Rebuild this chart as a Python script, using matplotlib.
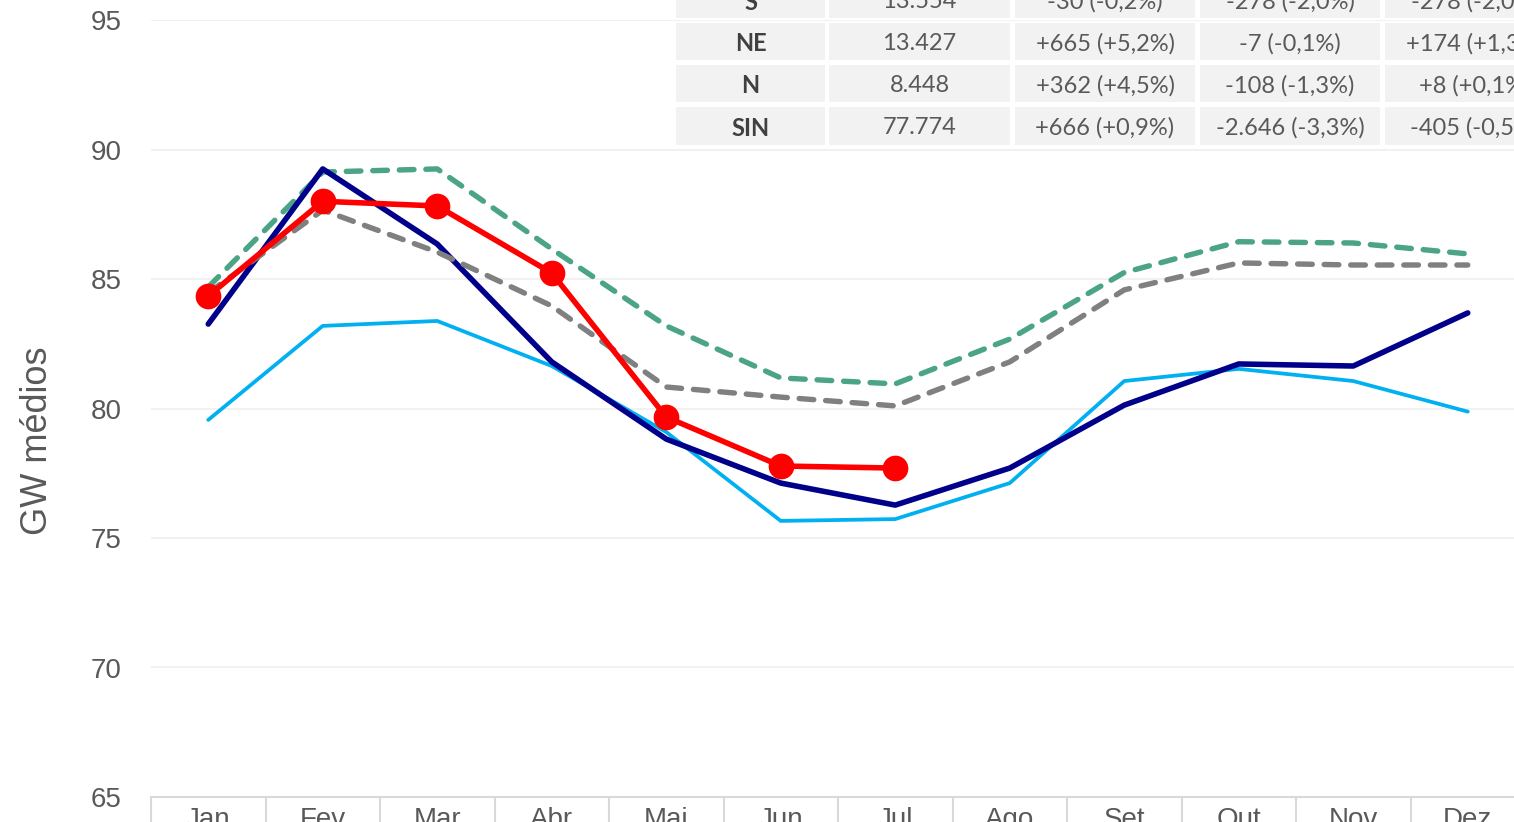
import matplotlib
matplotlib.use("Agg")
import matplotlib.pyplot as plt
from matplotlib.patches import Rectangle
import numpy as np

months = ["Jan", "Fev", "Mar", "Abr", "Mai", "Jun", "Jul", "Ago", "Set", "Out", "Nov", "Dez"]

serie_red = [84.34, 88.00, 87.82, 85.23, 79.67, 77.78, 77.70]
serie_navy = [83.26, 89.25, 86.35, 81.80, 78.82, 77.12, 76.27, 77.70, 80.13, 81.72, 81.64, 83.69]
serie_lightblue = [79.56, 83.19, 83.38, 81.64, 79.09, 75.66, 75.73, 77.12, 81.06, 81.53, 81.06, 79.88]
serie_green = [84.69, 89.13, 89.25, 86.16, 83.19, 81.18, 80.95, 82.68, 85.25, 86.44, 86.39, 85.97]
serie_gray = [84.46, 87.66, 86.04, 83.96, 80.83, 80.44, 80.10, 81.80, 84.58, 85.62, 85.54, 85.54]

table_rows = [
    ["S", "13.554", "-30 (-0,2%)", "-278 (-2,0%)", "-278 (-2,0%)"],
    ["NE", "13.427", "+665 (+5,2%)", "-7 (-0,1%)", "+174 (+1,3%)"],
    ["N", "8.448", "+362 (+4,5%)", "-108 (-1,3%)", "+8 (+0,1%)"],
    ["SIN", "77.774", "+666 (+0,9%)", "-2.646 (-3,3%)", "-405 (-0,5%)"],
]

W, H = 1514, 822
fig = plt.figure(figsize=(W / 100, H / 100), dpi=100)
fig.patch.set_facecolor("white")

ax_left, ax_right = 151, 151 + 12 * 114.5
ax_top, ax_bot = 20, 797
ax = fig.add_axes([ax_left / W, (H - ax_bot) / H, (ax_right - ax_left) / W, (ax_bot - ax_top) / H])

x = np.arange(len(months))

ax.plot(x, serie_lightblue, color="#00B0F0", lw=2.7, solid_joinstyle="round", solid_capstyle="round", zorder=3)
ax.plot(x, serie_green, color="#4BA585", lw=3.9, ls=(0, (2.7, 2.2)), dash_capstyle="round",
        dash_joinstyle="round", zorder=4)
ax.plot(x, serie_navy, color="#00008B", lw=4.0, solid_joinstyle="round", solid_capstyle="round", zorder=5)
ax.plot(x, serie_gray, color="#808080", lw=3.9, ls=(0, (2.7, 2.2)), dash_capstyle="round",
        dash_joinstyle="round", zorder=6)
ax.plot(np.arange(len(serie_red)), serie_red, color="#FF0000", lw=4.0, marker="o", markersize=18.5,
        markeredgewidth=0, solid_joinstyle="round", zorder=7)

ax.set_xlim(-0.5, 11.5)
ax.set_ylim(65, 95)
ax.set_yticks(np.arange(65, 96, 5))
ax.grid(axis="y", color="#EFEFEF", lw=1.2, zorder=0)
ax.set_axisbelow(True)
for s in ["top", "right", "left"]:
    ax.spines[s].set_visible(False)
ax.spines["bottom"].set_color("#D9D9D9")
ax.spines["bottom"].set_linewidth(1.5)

ax.tick_params(axis="y", length=0, pad=21, labelsize=20, labelcolor="#595959")
ax.set_xticks(x)
ax.set_xticklabels(months)
ax.set_xticks(np.arange(-0.5, 12, 1), minor=True)
ax.tick_params(axis="x", which="major", length=0, pad=7, labelsize=20, labelcolor="#595959")
ax.tick_params(axis="x", which="minor", length=30, width=1.5, color="#D9D9D9", direction="out")
for lab in ax.get_yticklabels() + ax.get_xticklabels():
    lab.set_family(["Liberation Sans", "DejaVu Sans"])

fig.text(38 / W, 1 - 441 / H, "GW médios", rotation=90, ha="center", va="center",
         fontsize=26, color="#595959", family=["Liberation Sans", "DejaVu Sans"])

# table
col_edges = [(676, 825), (829, 1010), (1015, 1195), (1200, 1380), (1385, 1565)]
row_edges = [(-18, 18), (23, 60), (65, 102), (107, 145)]
for ri, row in enumerate(table_rows):
    y0, y1 = row_edges[ri]
    for ci, txt in enumerate(row):
        x0, x1 = col_edges[ci]
        fig.add_artist(Rectangle((x0 / W, 1 - y1 / H), (x1 - x0) / W, (y1 - y0) / H,
                                 transform=fig.transFigure, facecolor="#F2F2F2", edgecolor="none", zorder=10))
        fig.text((x0 + x1) / 2 / W, 1 - ((y0 + y1) / 2 + 2) / H, txt, ha="center", va="center",
                 fontsize=17, color="#404040" if ci == 0 else "#595959",
                 fontweight="bold" if ci == 0 else "normal",
                 family=["Lato", "DejaVu Sans"], zorder=11)

fig.savefig("out.png", dpi=100)
